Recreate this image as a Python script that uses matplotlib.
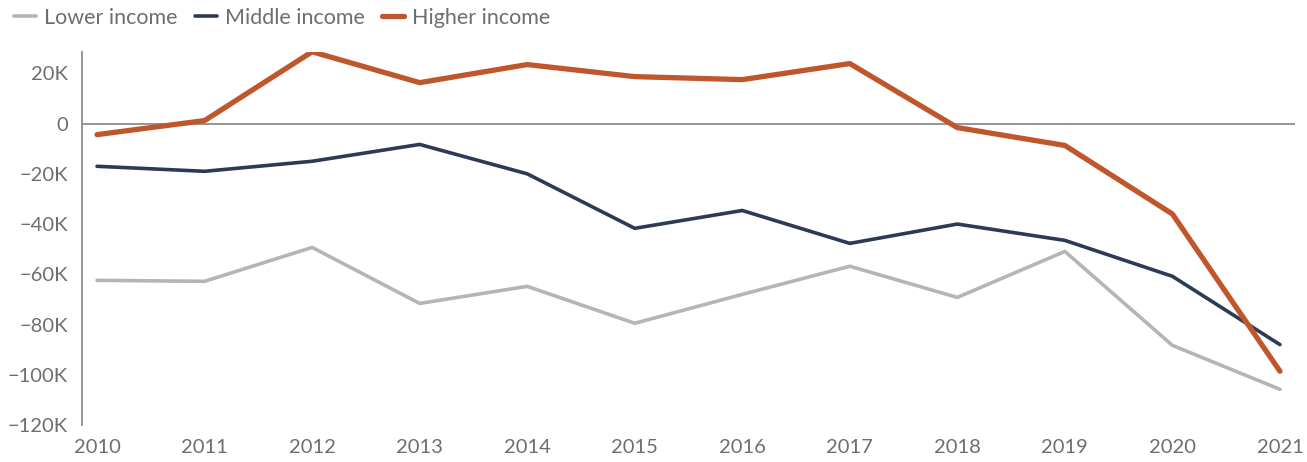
import numpy as np
import matplotlib.pyplot as plt
from matplotlib.ticker import FuncFormatter

# Datos
years = list(range(2010, 2022))
lower = [-62400, -62800, -49300, -71600, -64800, -79500, -68000, -56800, -69200, -50900, -88300, -105800]
middle = [-17000, -19000, -15000, -8300, -20000, -41700, -34600, -47700, -40000, -46500, -60800, -88000]
higher = [-4400, 1200, 28600, 16300, 23500, 18700, 17500, 23900, -1600, -8700, -36000, -98600]

gris_texto = '#6d6e71'
plt.rcParams['font.family'] = ['Lato', 'DejaVu Sans']

fig = plt.figure(figsize=(13.07, 4.62), dpi=100)
ax = fig.add_axes([82/1307, 1 - 425/462, (1295 - 82)/1307, (425 - 52)/462])

ax.axhline(0, color='#8a8c8f', lw=1.3, zorder=1)
ax.plot(years, lower, color='#b5b5b5', lw=2.6, label='Lower income', solid_capstyle='round', zorder=3)
ax.plot(years, middle, color='#2c3a56', lw=2.6, label='Middle income', solid_capstyle='round', zorder=3)
ax.plot(years, higher, color='#c0562b', lw=3.8, label='Higher income', solid_capstyle='round', zorder=4)

ax.set_xlim(2009.86, 2021.14)
ax.set_ylim(-120000, 28500)
ax.set_xticks(years)
ax.set_yticks(np.arange(-120000, 20001, 20000))

def fmt(v, pos):
    if v == 0:
        return '0'
    return f'{int(v/1000)}K'.replace('-', '\u2212')

ax.yaxis.set_major_formatter(FuncFormatter(fmt))
ax.tick_params(axis='both', length=0, labelsize=14.5, colors=gris_texto)
ax.tick_params(axis='y', pad=10)
ax.tick_params(axis='x', pad=10)

for s in ['top', 'right', 'bottom']:
    ax.spines[s].set_visible(False)
ax.spines['left'].set_color('#8a8c8f')
ax.spines['left'].set_linewidth(1.3)

leg = fig.legend(loc='upper left', bbox_to_anchor=(-0.004, 1.025), ncol=3, frameon=False,
                 fontsize=15.5, handlelength=1.0, handletextpad=0.4, columnspacing=0.8)
for t in leg.get_texts():
    t.set_color(gris_texto)

fig.savefig('out.png', dpi=100)
